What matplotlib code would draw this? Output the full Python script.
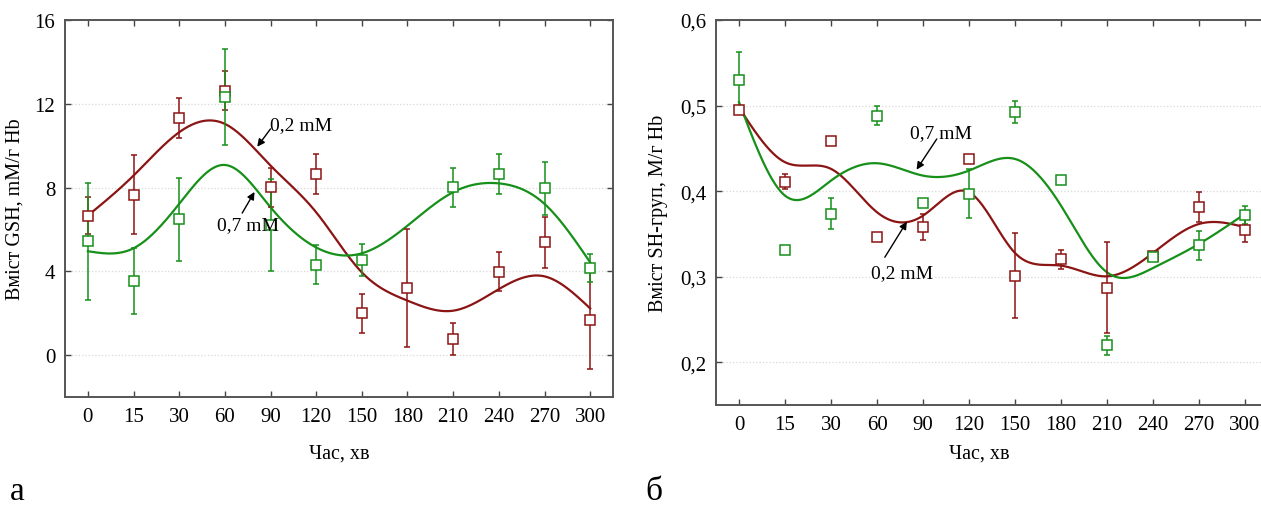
import numpy as np
import matplotlib
matplotlib.use("Agg")
import matplotlib.pyplot as plt

plt.rcParams['font.family'] = ['Liberation Serif', 'DejaVu Serif']

# time points (categorical axis)
times = ['0', '15', '30', '60', '90', '120', '150', '180', '210', '240', '270', '300']

# --- panel a: GSH, mM/g Hb ---
gsh_02 = [6.66, 7.66, 11.32, 12.63, 8.01, 8.65, 1.99, 3.2, 0.76, 3.98, 5.38, 1.66]
gsh_02_err = [0.9, 1.9, 0.95, 0.95, 0.93, 0.95, 0.94, 2.8, 0.77, 0.94, 1.2, 2.33]
gsh_07 = [5.43, 3.54, 6.48, 12.33, 6.2, 4.32, 4.54, np.nan, 8.01, 8.65, 7.96, 4.14]
gsh_07_err = [2.78, 1.56, 2.0, 2.3, 2.2, 0.94, 0.77, np.nan, 0.94, 0.94, 1.28, 0.67]
# smoothed fit curves read at each time point
gsh_02_fit = [6.66, 8.57, 10.64, 11.04, 9.05, 6.82, 3.95, 2.6, 2.12, 3.15, 3.76, 2.23]
gsh_07_fit = [4.96, 5.1, 7.22, 9.08, 7.06, 5.14, 4.86, 6.18, 7.78, 8.2, 7.22, 4.43]

# --- panel b: SH groups, M/g Hb ---
sh_02 = [0.4953, 0.411, 0.4587, 0.3464, 0.358, 0.4373, 0.3012, 0.3203, 0.2871, 0.3246, 0.3812, 0.3546]
sh_02_err = [0.003, 0.009, 0.0, 0.0, 0.015, 0.0, 0.05, 0.011, 0.053, 0.003, 0.0175, 0.014]
sh_07 = [0.5304, 0.3309, 0.3737, 0.488, 0.3866, 0.3971, 0.4926, 0.4131, 0.2198, 0.3227, 0.3367, 0.3722]
sh_07_err = [0.032, 0.0, 0.018, 0.011, 0.0, 0.029, 0.0125, 0.004, 0.011, 0.002, 0.017, 0.0105]
sh_02_fit = [0.4977, 0.4338, 0.426, 0.3753, 0.3713, 0.3987, 0.3277, 0.3129, 0.3004, 0.3277, 0.3616, 0.3578]
sh_07_fit = [0.504, 0.3947, 0.4123, 0.4326, 0.4181, 0.424, 0.4376, 0.383, 0.3051, 0.3101, 0.3383, 0.3734]

RED = '#8b1414'
GREEN = '#17901a'
FS = 15


def natural_spline(x, y, xs):
    # plain natural cubic spline through the knots
    x = np.asarray(x, float)
    y = np.asarray(y, float)
    n = len(x)
    h = np.diff(x)
    A = np.zeros((n, n))
    b = np.zeros(n)
    A[0, 0] = A[-1, -1] = 1
    for i in range(1, n - 1):
        A[i, i - 1] = h[i - 1]
        A[i, i] = 2 * (h[i - 1] + h[i])
        A[i, i + 1] = h[i]
        b[i] = 3 * ((y[i + 1] - y[i]) / h[i] - (y[i] - y[i - 1]) / h[i - 1])
    c = np.linalg.solve(A, b)
    idx = np.clip(np.searchsorted(x, xs) - 1, 0, n - 2)
    dx = xs - x[idx]
    bb = (y[idx + 1] - y[idx]) / h[idx] - h[idx] * (2 * c[idx] + c[idx + 1]) / 3
    dd = (c[idx + 1] - c[idx]) / (3 * h[idx])
    return y[idx] + bb * dx + c[idx] * dx ** 2 + dd * dx ** 3


def draw_panel(ax, s1, e1, f1, s2, e2, f2):
    xi = np.arange(len(times))
    xs = np.linspace(0, len(times) - 1, 400)
    ax.plot(xs, natural_spline(xi, f1, xs), color=RED, lw=1.6, zorder=3)
    ax.plot(xs, natural_spline(xi, f2, xs), color=GREEN, lw=1.6, zorder=3)
    for s, e, c in [(s1, e1, RED), (s2, e2, GREEN)]:
        ax.errorbar(xi, s, yerr=e, fmt='s', ms=6.5, mfc='white', mec=c, mew=1.1,
                    ecolor=c, elinewidth=1.1, capsize=2.5, capthick=1.1, zorder=4)
    ax.set_xticks(xi)
    ax.set_xticklabels(times)
    ax.set_xlim(-0.5, len(times) - 0.5)
    ax.grid(axis='y', color='#d8d8d8', ls=':', lw=0.9)
    ax.set_axisbelow(True)
    ax.tick_params(direction='in', top=True, right=True, length=4, width=1,
                   color='#444444', labelsize=FS, pad=7)
    for sp in ax.spines.values():
        sp.set_color('#555555')
        sp.set_linewidth(1.4)


def label(ax, text, pos, tail, tip):
    ax.text(pos[0], pos[1], text, fontsize=14, ha='center', va='center', zorder=5)
    ax.annotate('', xy=tip, xytext=tail,
                arrowprops=dict(arrowstyle='-|>', color='black', lw=1, shrinkA=0, shrinkB=0,
                                mutation_scale=11))


fig = plt.figure(figsize=(12.61, 5.06), dpi=100)
W, H = 1261, 506

ax1 = fig.add_axes([65 / W, 1 - 398 / H, 548 / W, 377 / H])
draw_panel(ax1, gsh_02, gsh_02_err, gsh_02_fit, gsh_07, gsh_07_err, gsh_07_fit)
ax1.set_ylim(-2, 16)
ax1.set_yticks([0, 4, 8, 12, 16])
ax1.set_ylabel('Вміст GSH, mM/г Hb', fontsize=14.5, labelpad=7)
ax1.set_xlabel('Час, хв', fontsize=14.5, labelpad=13)
label(ax1, '0,2 mM', (4.66, 10.99), (4.0, 10.8), (3.71, 9.95))
label(ax1, '0,7 mM', (3.5, 6.22), (3.38, 6.78), (3.65, 7.79))

ax2 = fig.add_axes([716 / W, 1 - 406 / H, 552 / W, 385 / H])
draw_panel(ax2, sh_02, sh_02_err, sh_02_fit, sh_07, sh_07_err, sh_07_fit)
ax2.set_ylim(0.15, 0.6)
ax2.set_yticks([0.2, 0.3, 0.4, 0.5, 0.6])
ax2.set_yticklabels(['0,2', '0,3', '0,4', '0,5', '0,6'])
ax2.set_ylabel('Вміст SH-груп, M/г Hb', fontsize=14.5, labelpad=9)
ax2.set_xlabel('Час, хв', fontsize=14.5)
ax2.xaxis.set_label_coords(0.477, -0.1)
label(ax2, '0,7 mM', (4.39, 0.4689), (4.3, 0.461), (3.86, 0.4251))
label(ax2, '0,2 mM', (3.54, 0.3043), (3.17, 0.3227), (3.65, 0.3643))

fig.text(10 / W, 1 - 492 / H, 'а', fontsize=24, va='center', ha='left')
fig.text(645 / W, 1 - 492 / H, 'б', fontsize=24, va='center', ha='left')

fig.savefig('out.png', dpi=100)
